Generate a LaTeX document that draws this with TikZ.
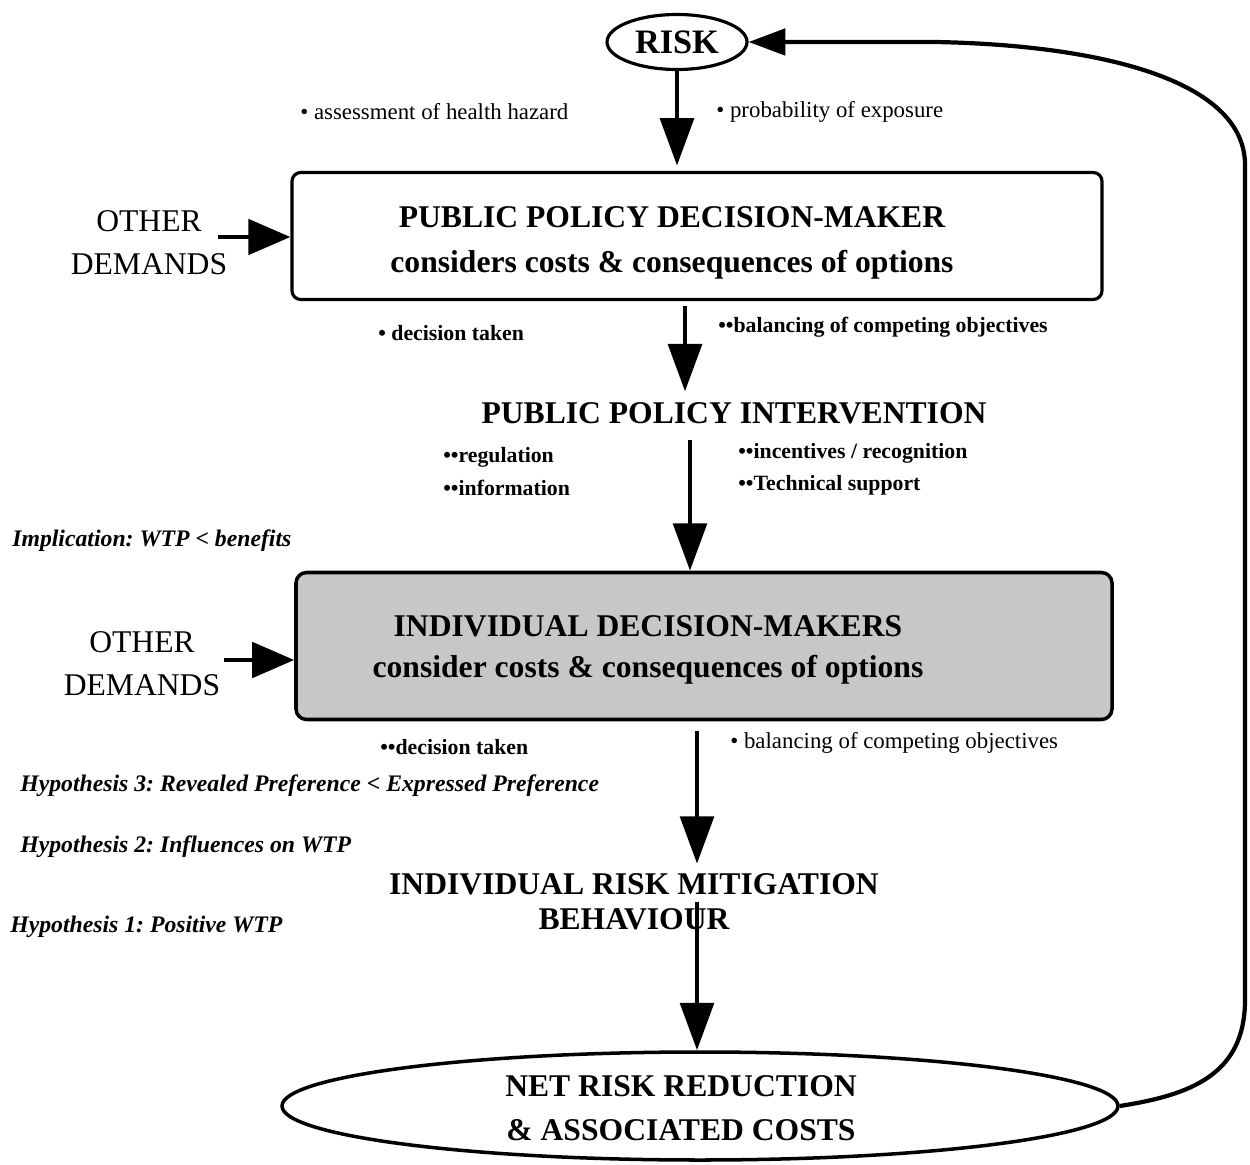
\documentclass[tikz,border=0pt]{standalone}
\usepackage{fontspec}
\setmainfont{Liberation Serif}
\usetikzlibrary{arrows.meta,shapes.geometric,calc}
\newlength\upx \setlength\upx{0.02cm}
\frenchspacing
\begin{document}
\begin{tikzpicture}[x=0.02cm,y=-0.02cm,
  big/.style={font=\bfseries\fontsize{18}{26}\selectfont, align=center, inner sep=0pt},
  other/.style={font=\fontsize{18}{24.4}\selectfont, align=center, inner sep=0pt},
  lab/.style={font=\fontsize{13}{15}\selectfont, anchor=west, inner sep=0pt},
  blab/.style={font=\bfseries\fontsize{12.4}{15}\selectfont, anchor=west, inner sep=0pt},
  hyp/.style={font=\bfseries\itshape\fontsize{13.5}{15}\selectfont, anchor=west, inner sep=0pt},
  flow/.style={line width=2.8pt, -{Triangle[width=19pt,length=27pt]}},
  side/.style={line width=2.8pt, -{Triangle[width=20pt,length=24pt]}},
  fb/.style={line width=2.4pt, -{Triangle[width=15pt,length=21pt]}},
  boxline/.style={draw, line width=1.8pt}
]
\useasboundingbox (0,0) rectangle (1250,1165);

% RISK
\node[ellipse, boxline, minimum width=140\upx, minimum height=55\upx, inner sep=0pt,
  font=\bfseries\fontsize{19.5}{20}\selectfont] (risk) at (677,42) {RISK};

\node[lab] (assess) at (300,112) {• assessment of health hazard};
\node[lab] (prob) at (716,112) {• probability of exposure};

% Public policy decision maker
\node[boxline, rounded corners=5pt, minimum width=810\upx, minimum height=127\upx] (pp) at (697,236) {};
\node[big] (pptxt) at (672,243) {PUBLIC POLICY DECISION-MAKER\\considers costs \& consequences of options};

\node[other] (od1) at (149,243) {OTHER\\DEMANDS};

\node[blab] (dec1) at (378,333) {• decision taken};
\node[blab] (bal1) at (718,327) {••balancing of competing objectives};

\node[big] (ppi) at (734,413) {PUBLIC POLICY INTERVENTION};

\node[blab] (reg) at (443,457) {••regulation};
\node[blab] (info) at (443,488) {••information};
\node[blab] (inc) at (738,453) {••incentives / recognition};
\node[blab] (tech) at (738,485) {••Technical support};

\node[hyp] (impl) at (12,541) {Implication: WTP < benefits};

% Individual decision makers
\node[boxline, line width=2pt, rounded corners=6pt, fill=black!22, minimum width=816\upx, minimum height=147\upx] (ind) at (704,646) {};
\node[big, font=\bfseries\fontsize{18}{23}\selectfont] (indtxt) at (648,650) {INDIVIDUAL DECISION-MAKERS\\consider costs \& consequences of options};

\node[other] (od2) at (142,664) {OTHER\\DEMANDS};

\node[blab] (dec2) at (380,747) {••decision taken};
\node[lab] (bal2) at (730,743) {• balancing of competing objectives};

\node[hyp] (hyp3) at (20,786) {Hypothesis 3: Revealed Preference < Expressed Preference};
\node[hyp] (hyp2) at (20,847) {Hypothesis 2: Influences on WTP};
\node[hyp] (hyp1) at (10,927) {Hypothesis 1: Positive WTP};

\node[big, font=\bfseries\fontsize{18}{20}\selectfont] (irmb) at (634,902) {INDIVIDUAL RISK MITIGATION\\BEHAVIOUR};

% Net risk reduction
\node[ellipse, boxline, line width=2pt, minimum width=836\upx, minimum height=108\upx] (net) at (700,1106) {};
\node[big, font=\bfseries\fontsize{18}{25}\selectfont] (nettxt) at (681,1108) {NET RISK REDUCTION\\\& ASSOCIATED COSTS};

% arrow columns
\coordinate (c2) at (685,0);
\coordinate (c3) at (690,0);
\coordinate (c4) at (697,0);

\draw[flow, shorten >=3pt] (risk.south) -- (risk.south |- pp.north);
\draw[flow, shorten <=3pt, shorten >=6pt] (pp.south -| c2) -- (ppi.north -| c2);
\draw[flow, shorten <=9pt] (ppi.south -| c3) -- (ind.north -| c3);
\draw[flow, shorten <=5.5pt, shorten >=5.5pt] (ind.south -| c4) -- (irmb.north -| c4);
\draw[flow] (irmb.center -| c4) -- (net.north -| c4);

\coordinate (s1) at ($(od1.east)+(-10,-6)$);
\draw[side] (s1) -- (s1 -| pp.west);
\coordinate (s2) at ($(od2.east)+(3,-4)$);
\draw[side] (s2) -- (s2 -| ind.west);

% feedback loop
\draw[fb] (net.east) .. controls (1190,1095) and (1245,1075) .. (1245,1000)
  -- (1245,165) .. controls (1245,80) and (1100,45) .. (935,42) -- (risk.east);
\end{tikzpicture}
\end{document}
